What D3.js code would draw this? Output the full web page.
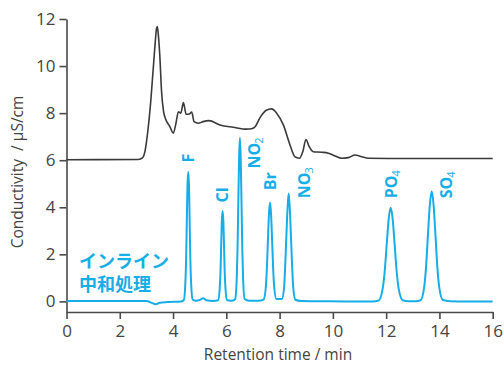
<!DOCTYPE html>
<html>
<head>
<meta charset="utf-8">
<script src="https://cdn.jsdelivr.net/npm/d3@7"></script>
<style>
  html, body { margin: 0; padding: 0; background: #fff; }
  svg { display: block; }
</style>
</head>
<body>
<svg id="chart" width="504" height="365"></svg>
<script>
// Retention time axis ticks (min) and conductivity ticks (µS/cm)
const xTicks = [0, 2, 4, 6, 8, 10, 12, 14, 16];
const yTicks = [0, 2, 4, 6, 8, 10, 12];

// Upper trace: without in-line neutralisation (time, conductivity)
const rawTime = [0, 2.7, 2.85, 2.95, 3.05, 3.14, 3.25, 3.33, 3.38, 3.41, 3.45, 3.5, 3.57, 3.64, 3.72, 3.88,
  4.01, 4.11, 4.2, 4.29, 4.39, 4.49, 4.61, 4.7, 4.79, 4.95, 5.13, 5.35, 5.76, 6.26, 6.76, 6.95, 7.08, 7.26,
  7.5, 7.7, 7.89, 8.14, 8.39, 8.57, 8.74, 8.87, 8.99, 9.11, 9.26, 9.58, 9.83, 10.08, 10.33, 10.58, 10.83,
  11.08, 11.33, 12.4, 16];
const rawValue = [6.02, 6.03, 6.1, 6.4, 7.2, 8.2, 9.8, 11.0, 11.6, 11.68, 11.3, 10.5, 8.9, 8.1, 7.75, 7.43,
  7.15, 7.57, 8.06, 8.0, 8.45, 7.95, 7.96, 8.05, 7.64, 7.57, 7.64, 7.68, 7.5, 7.4, 7.32, 7.34, 7.42, 7.8,
  8.12, 8.18, 8.0, 7.5, 6.65, 6.15, 6.08, 6.36, 6.88, 6.58, 6.36, 6.34, 6.3, 6.18, 6.08, 6.11, 6.22,
  6.15, 6.08, 6.07, 6.07];

// Lower trace: with in-line neutralisation (time, conductivity)
const neutTime = [0, 3.0, 3.2, 3.35, 3.5, 3.8, 4.3,
  4.405, 4.46, 4.49, 4.515, 4.54, 4.57, 4.60, 4.625, 4.65, 4.68, 4.735,
  4.85, 5.0, 5.13, 5.25, 5.5,
  5.695, 5.75, 5.78, 5.805, 5.83, 5.86, 5.89, 5.915, 5.94, 5.97, 6.025,
  6.15, 6.25,
  6.33, 6.39, 6.42, 6.45, 6.48, 6.51, 6.54, 6.57, 6.60, 6.63, 6.69,
  6.85, 7.1, 7.3,
  7.40, 7.48, 7.52, 7.56, 7.60, 7.64, 7.68, 7.72, 7.76, 7.80, 7.88,
  7.98,
  8.085, 8.17, 8.21, 8.255, 8.30, 8.34, 8.38, 8.425, 8.47, 8.51, 8.595,
  8.8, 9.5, 10.5, 11.5,
  11.72, 11.87, 11.945, 12.02, 12.095, 12.17, 12.245, 12.32, 12.395, 12.47, 12.62,
  12.85, 13.1,
  13.29, 13.43, 13.50, 13.57, 13.64, 13.71, 13.78, 13.85, 13.92, 13.99, 14.13,
  14.4, 15, 16];
const neutValue = [0.02, 0.02, -0.06, -0.12, -0.06, -0.03, 0.0,
  0.06, 0.74, 1.75, 3.3, 4.85, 5.5, 4.85, 3.3, 1.75, 0.74, 0.08,
  0.03, 0.06, 0.13, 0.05, 0.02,
  0.05, 0.52, 1.22, 2.3, 3.38, 3.84, 3.38, 2.3, 1.22, 0.52, 0.06,
  0.03, 0.04,
  0.1, 0.94, 2.2, 4.2, 6.1, 6.95, 6.1, 4.2, 2.2, 0.94, 0.1,
  0.03, 0.03, 0.04,
  0.08, 0.57, 1.35, 2.55, 3.7, 4.2, 3.7, 2.55, 1.35, 0.57, 0.1,
  0.1,
  0.1, 0.62, 1.5, 2.8, 4.0, 4.58, 4.0, 2.8, 1.5, 0.62, 0.07,
  0.02, 0.01, 0.0, 0.0,
  0.04, 0.54, 1.27, 2.4, 3.5, 3.98, 3.5, 2.4, 1.27, 0.54, 0.05,
  0.01, 0.01,
  0.05, 0.63, 1.5, 2.85, 4.1, 4.68, 4.1, 2.85, 1.5, 0.63, 0.06,
  0.01, 0.0, 0.0];

// Ion peak labels: name, subscript, retention time of the label, label start value
const ionNames = ["F", "Cl", "NO", "Br", "NO", "PO", "SO"];
const ionSubs = ["", "", "2", "", "3", "4", "4"];
const ionLabelTime = [4.57, 5.86, 7.05, 7.64, 8.92, 12.18, 14.24];
const ionLabelValue = [5.9, 4.2, 5.65, 4.72, 4.38, 4.38, 4.38];

const blue = "#17ade6";
const dark = "#3a3a3a";
const axisCol = "#4a4a4a";

const svg = d3.select("#chart");
const x = d3.scaleLinear().domain([0, 16]).range([66.5, 492.7]);
const y = d3.scaleLinear().domain([-0.45, 12]).range([312, 19]);

// Axes
const xAxis = d3.axisBottom(x).tickValues(xTicks).tickSizeInner(7).tickSizeOuter(0).tickPadding(6);
const yAxis = d3.axisLeft(y).tickValues(yTicks).tickSizeInner(7).tickSizeOuter(0).tickPadding(4);

const gx = svg.append("g").attr("transform", `translate(0,${y(-0.45)})`).call(xAxis);
const gy = svg.append("g").attr("transform", `translate(${x(0)},0)`).call(yAxis);

[gx, gy].forEach(g => {
  g.select(".domain").attr("stroke", axisCol).attr("stroke-width", 1.6);
  g.selectAll(".tick line").attr("stroke", axisCol).attr("stroke-width", 1.6);
  g.selectAll(".tick text")
    .attr("fill", "#444")
    .style("font-family", "'Open Sans', sans-serif")
    .style("font-size", "17px");
});

// Axis titles
svg.append("text")
  .attr("x", 278)
  .attr("y", 360)
  .attr("text-anchor", "middle")
  .attr("fill", "#444")
  .style("font-family", "'Open Sans', sans-serif")
  .style("font-size", "15.5px")
  .text("Retention time / min");

svg.append("text")
  .attr("transform", `translate(23,${172}) rotate(-90)`)
  .attr("text-anchor", "middle")
  .attr("fill", "#444")
  .style("font-family", "'Open Sans', sans-serif")
  .style("font-size", "15.5px")
  .style("white-space", "pre")
  .text("Conductivity  / µS/cm");

// Traces
const line = d3.line()
  .x(d => x(d[0]))
  .y(d => y(d[1]))
  .curve(d3.curveMonotoneX);

const rawData = rawTime.map((t, i) => [t, rawValue[i]]);
const neutData = neutTime.map((t, i) => [t, neutValue[i]]);

svg.append("path")
  .datum(rawData)
  .attr("d", line)
  .attr("fill", "none")
  .attr("stroke", dark)
  .attr("stroke-width", 1.6)
  .attr("stroke-linejoin", "round");

svg.append("path")
  .datum(neutData)
  .attr("d", line)
  .attr("fill", "none")
  .attr("stroke", blue)
  .attr("stroke-width", 2)
  .attr("stroke-linejoin", "round");

// Peak labels (rotated); subscripts drop toward the baseline side
ionNames.forEach((name, i) => {
  const t = svg.append("text")
    .attr("transform", `translate(${x(ionLabelTime[i])},${y(ionLabelValue[i])}) rotate(-90)`)
    .attr("dy", "0.36em")
    .attr("fill", blue)
    .style("font-family", "'Open Sans', sans-serif")
    .style("font-weight", "700")
    .style("font-size", "16px");
  t.append("tspan").text(name);
  if (ionSubs[i]) {
    t.append("tspan")
      .attr("dx", "-1")
      .attr("dy", "3")
      .style("font-size", "11px")
      .style("font-weight", "400")
      .text(ionSubs[i]);
  }
});

// Trace annotation
const noteLines = ["インライン", "中和処理"];
noteLines.forEach((txt, i) => {
  svg.append("text")
    .attr("x", 79)
    .attr("y", 268 + i * 23)
    .attr("fill", blue)
    .style("font-family", "'Noto Sans CJK JP', sans-serif")
    .style("font-weight", "700")
    .style("font-size", "18px")
    .text(txt);
});
</script>
</body>
</html>
